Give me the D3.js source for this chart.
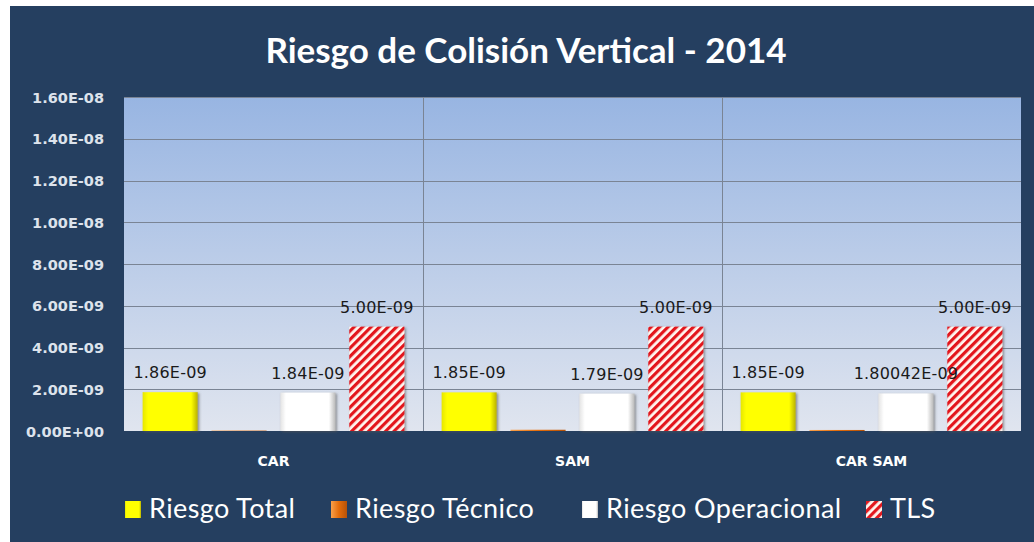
<!DOCTYPE html>
<html lang="es">
<head>
<meta charset="UTF-8">
<title>Riesgo de Colisión Vertical - 2014</title>
<style>
  body { margin: 0; background: #fff; }
  svg { display: block; }
</style>
</head>
<body>
<svg id="chart" width="1034" height="542"></svg>
<script src="https://d3js.org/d3.v7.min.js"></script>
<script>
// data
const categories = ["CAR", "SAM", "CAR SAM"];
const seriesNames = ["Riesgo Total", "Riesgo Técnico", "Riesgo Operacional", "TLS"];
const riesgoTotal = [1.86e-9, 1.85e-9, 1.85e-9];
const riesgoTecnico = [2e-11, 6e-11, 5e-11];
const riesgoOperacional = [1.84e-9, 1.79e-9, 1.80042e-9];
const tls = [5e-9, 5e-9, 5e-9];
const labelsTotal = ["1.86E-09", "1.85E-09", "1.85E-09"];
const labelsOperacional = ["1.84E-09", "1.79E-09", "1.80042E-09"];
const labelsTls = ["5.00E-09", "5.00E-09", "5.00E-09"];
const yTicks = [0, 2e-9, 4e-9, 6e-9, 8e-9, 1e-8, 1.2e-8, 1.4e-8, 1.6e-8];

const svg = d3.select("#chart");
const W = 1034, H = 542;
const plot = { left: 124, right: 1021, top: 97, bottom: 431 };
const legendX = [125, 331, 582, 866]; // marker left edges

function fmtE(v) {
  // Excel style 0.00E+00
  const s = v.toExponential(2).toUpperCase();
  const [m, e] = s.split("E");
  const sign = e[0];
  const digits = e.slice(1).padStart(2, "0");
  return m + "E" + sign + digits;
}

const defs = svg.append("defs");

const bg = defs.append("linearGradient").attr("id", "plotBg")
  .attr("x1", 0).attr("y1", 0).attr("x2", 0).attr("y2", 1);
bg.append("stop").attr("offset", "0%").attr("stop-color", "#98b5e2");
bg.append("stop").attr("offset", "100%").attr("stop-color", "#e0e5ef");

const yel = defs.append("linearGradient").attr("id", "yel")
  .attr("x1", 0).attr("y1", 0).attr("x2", 1).attr("y2", 0);
yel.append("stop").attr("offset", "0%").attr("stop-color", "#e6e600");
yel.append("stop").attr("offset", "10%").attr("stop-color", "#ffff00");
yel.append("stop").attr("offset", "88%").attr("stop-color", "#ffff00");
yel.append("stop").attr("offset", "100%").attr("stop-color", "#b8b000");

const org = defs.append("linearGradient").attr("id", "org")
  .attr("x1", 0).attr("y1", 0).attr("x2", 1).attr("y2", 0);
org.append("stop").attr("offset", "0%").attr("stop-color", "#f9a04a");
org.append("stop").attr("offset", "50%").attr("stop-color", "#e46c0a");
org.append("stop").attr("offset", "100%").attr("stop-color", "#b65208");

const wht = defs.append("linearGradient").attr("id", "wht")
  .attr("x1", 0).attr("y1", 0).attr("x2", 1).attr("y2", 0);
wht.append("stop").attr("offset", "0%").attr("stop-color", "#e4e4e4");
wht.append("stop").attr("offset", "10%").attr("stop-color", "#ffffff");
wht.append("stop").attr("offset", "88%").attr("stop-color", "#ffffff");
wht.append("stop").attr("offset", "100%").attr("stop-color", "#b8b8b8");

const stripes = defs.append("pattern").attr("id", "stripes")
  .attr("patternUnits", "userSpaceOnUse")
  .attr("width", 6).attr("height", 6)
  .attr("patternTransform", "rotate(45)");
stripes.append("rect").attr("width", 6).attr("height", 6).attr("fill", "#fff6f0");
stripes.append("rect").attr("width", 3.2).attr("height", 6).attr("fill", "#e3191f");

const shadow = defs.append("filter").attr("id", "shadow")
  .attr("x", "-10%").attr("y", "-10%").attr("width", "130%").attr("height", "130%");
shadow.append("feDropShadow").attr("dx", 1.5).attr("dy", 1).attr("stdDeviation", 1)
  .attr("flood-color", "#555").attr("flood-opacity", 0.6);

// background
svg.append("rect").attr("x", 10).attr("y", 6).attr("width", W - 10).attr("height", H - 6)
  .attr("fill", "#253f60");

// title
svg.append("text")
  .attr("x", 526).attr("y", 63)
  .attr("text-anchor", "middle")
  .attr("fill", "#fff")
  .style("font-family", "Lato, 'Open Sans', sans-serif")
  .style("font-weight", "bold")
  .style("font-size", "35px")
  .text("Riesgo de Colisión Vertical - 2014");

// scales
const y = d3.scaleLinear().domain([0, 1.6e-8]).range([plot.bottom, plot.top]);
const x0 = d3.scaleBand().domain(categories).range([plot.left, plot.right]);
const x1 = d3.scaleBand().domain(seriesNames)
  .range([0, x0.bandwidth()]).paddingInner(0.2).paddingOuter(0.27);

// plot area
svg.append("rect")
  .attr("x", plot.left).attr("y", plot.top)
  .attr("width", plot.right - plot.left).attr("height", plot.bottom - plot.top)
  .attr("fill", "url(#plotBg)");

// gridlines
svg.append("g").selectAll("line")
  .data(yTicks.slice(1))
  .join("line")
  .attr("x1", plot.left).attr("x2", plot.right)
  .attr("y1", d => Math.round(y(d)) + 0.5).attr("y2", d => Math.round(y(d)) + 0.5)
  .attr("stroke", "#7a8494").attr("stroke-width", 1);

// category separators
svg.append("g").selectAll("line")
  .data(categories.slice(1))
  .join("line")
  .attr("x1", d => Math.round(x0(d)) + 0.5).attr("x2", d => Math.round(x0(d)) + 0.5)
  .attr("y1", plot.top).attr("y2", plot.bottom)
  .attr("stroke", "#7a8494").attr("stroke-width", 1);

// y axis labels
const yAxis = d3.axisLeft(y).tickValues(yTicks).tickFormat(fmtE).tickSize(0).tickPadding(0);
const ya = svg.append("g").attr("transform", `translate(${plot.left - 20},0)`).call(yAxis);
ya.select(".domain").remove();
ya.selectAll("text")
  .attr("fill", "#dde3ec")
  .attr("dy", "0.35em")
  .style("font-family", "'DejaVu Sans', Verdana, sans-serif")
  .style("font-weight", "bold")
  .style("font-size", "14.5px");

// x axis labels
const xAxis = d3.axisBottom(x0).tickSize(0).tickPadding(0);
const xa = svg.append("g").attr("transform", `translate(0,${plot.bottom + 30})`).call(xAxis);
xa.select(".domain").remove();
xa.selectAll("text")
  .attr("fill", "#ffffff")
  .attr("dy", "0.35em")
  .style("font-family", "'DejaVu Sans', Verdana, sans-serif")
  .style("font-weight", "bold")
  .style("font-size", "14px");

// bars
const seriesValues = [riesgoTotal, riesgoTecnico, riesgoOperacional, tls];
const seriesFill = ["url(#yel)", "url(#org)", "url(#wht)", "url(#stripes)"];
const seriesLabels = [labelsTotal, null, labelsOperacional, labelsTls];

const barData = [];
categories.forEach((c, i) => {
  seriesNames.forEach((s, j) => {
    barData.push({ cat: c, ser: s, j: j, value: seriesValues[j][i], label: seriesLabels[j] ? seriesLabels[j][i] : null });
  });
});

svg.append("g").selectAll("rect")
  .data(barData)
  .join("rect")
  .attr("x", d => x0(d.cat) + x1(d.ser))
  .attr("width", x1.bandwidth())
  .attr("y", d => y(d.value))
  .attr("height", d => plot.bottom - y(d.value))
  .attr("fill", d => seriesFill[d.j])
  .attr("filter", d => d.j === 1 ? null : "url(#shadow)");

svg.append("g").selectAll("text")
  .data(barData.filter(d => d.label))
  .join("text")
  .attr("x", d => x0(d.cat) + x1(d.ser) + x1.bandwidth() / 2)
  .attr("y", d => y(d.value) - 14)
  .attr("text-anchor", "middle")
  .attr("fill", "#1a1a1a")
  .style("font-family", "'DejaVu Sans', Verdana, sans-serif")
  .style("font-size", "16px")
  .style("letter-spacing", "0.2px")
  .text(d => d.label);

// legend
const legend = svg.append("g");
const legendItems = legend.selectAll("g")
  .data(seriesNames)
  .join("g")
  .attr("transform", (d, j) => `translate(${legendX[j]},518)`);
legendItems.append("rect")
  .attr("width", 16).attr("height", 17)
  .attr("y", -17)
  .attr("fill", (d, j) => j === 3 ? "url(#stripes)" : seriesFill[j]);
legendItems.append("text")
  .attr("x", 24).attr("y", 0)
  .attr("fill", "#ffffff")
  .style("font-family", "Lato, 'Open Sans', sans-serif")
  .style("font-size", "27px")
  .style("letter-spacing", "0.4px")
  .text(d => d);
</script>
</body>
</html>
